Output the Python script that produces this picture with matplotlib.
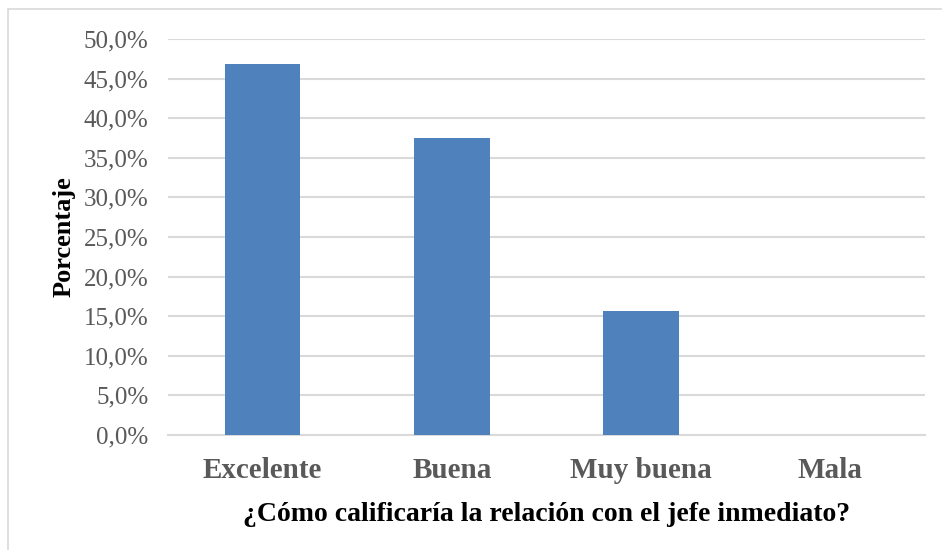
import matplotlib.pyplot as plt
from matplotlib.patches import Rectangle
from matplotlib.ticker import FuncFormatter

# datos de la encuesta
categorias = ['Excelente', 'Buena', 'Muy buena', 'Mala']
porcentajes = [46.875, 37.5, 15.625, 0.0]
ticks_y = [0, 5, 10, 15, 20, 25, 30, 35, 40, 45, 50]

plt.rcParams['font.family'] = ['Liberation Serif', 'DejaVu Serif']

fig = plt.figure(figsize=(9.42, 5.5), dpi=100)
W, H = 942, 550
ax = fig.add_axes([168 / W, 1 - 435 / H, 757 / W, (435 - 39) / H])

# marco exterior del grafico
fig.patches.append(Rectangle((8 / W, -0.01), 1.0, 1 - 9 / H + 0.01, transform=fig.transFigure,
                             fill=False, edgecolor='#d9d9d9', linewidth=1.2, zorder=0))

x = range(len(categorias))
ax.bar(x, porcentajes, width=0.4, color='#4f81bd', zorder=3)

ax.set_xlim(-0.5, len(categorias) - 0.5)
ax.set_ylim(0, 50)
ax.set_yticks(ticks_y)
ax.yaxis.set_major_formatter(FuncFormatter(lambda v, p: ('%.1f%%' % v).replace('.', ',')))
ax.grid(axis='y', color='#d9d9d9', linewidth=1.5, zorder=0)

for s in ['top', 'right', 'left']:
    ax.spines[s].set_visible(False)
ax.spines['bottom'].set_color('#d9d9d9')
ax.spines['bottom'].set_linewidth(1.5)

ax.set_xticks(list(x))
ax.set_xticklabels(categorias, fontsize=21, fontweight='bold', color='#595959')
ax.tick_params(axis='x', length=0, pad=16)
ax.tick_params(axis='y', length=0, pad=14, labelsize=18, labelcolor='#595959')

ax.set_xlabel('¿Cómo calificaría la relación con el jefe inmediato?', fontsize=20,
              fontweight='bold', color='black')
ax.xaxis.set_label_coords(0.5, -0.168)
ax.set_ylabel('Porcentaje', fontsize=19, fontweight='bold', color='black')
ax.yaxis.set_label_coords(-0.122, 0.5)

fig.savefig('out.png', dpi=100)
